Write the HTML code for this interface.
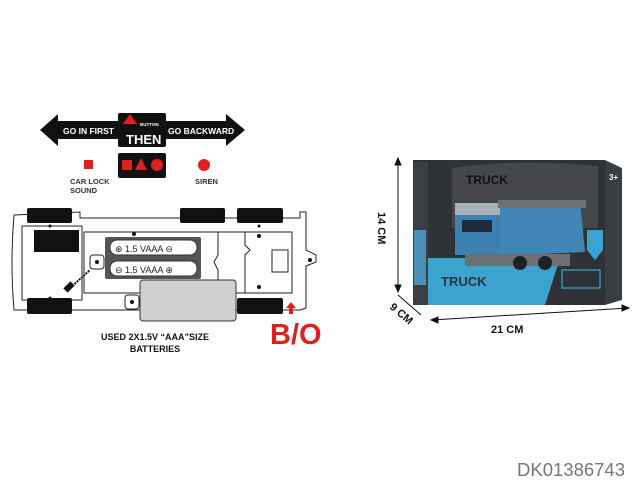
<!DOCTYPE html>
<html><head><style>
html,body{margin:0;padding:0;background:#fff;width:640px;height:480px;overflow:hidden}
svg{display:block}
text{font-family:"Liberation Sans",sans-serif;font-weight:bold}
</style></head><body>
<svg width="640" height="480" viewBox="0 0 640 480">
<!-- double arrow -->
<polygon points="40,130 58,114 58,121 226,121 226,114 245,130 226,146 226,139 58,139 58,146" fill="#111"/>
<rect x="118" y="113" width="48" height="34" rx="2" fill="#111"/>
<text x="63" y="134" font-size="8.5" fill="#fff">GO IN FIRST</text>
<text x="168" y="134" font-size="8.5" fill="#fff">GO BACKWARD</text>
<polygon points="130,114 137,124 123,124" fill="#e0201e"/>
<text x="140" y="126" font-size="4.5" fill="#fff">BUTTON</text>
<text x="126" y="144" font-size="13" fill="#fff">THEN</text>
<rect x="118" y="153" width="48" height="25" rx="2" fill="#111"/>
<rect x="122" y="160" width="10" height="10" fill="#e0201e"/>
<polygon points="141,158 147,170 135,170" fill="#e0201e"/>
<circle cx="157" cy="165" r="6" fill="#e0201e"/>
<rect x="84" y="160" width="9" height="9" fill="#e0201e"/>
<circle cx="204" cy="165" r="6" fill="#e0201e"/>
<text x="70" y="184" font-size="7.5" fill="#333">CAR LOCK</text>
<text x="70" y="193" font-size="7.5" fill="#333">SOUND</text>
<text x="195" y="184" font-size="7.5" fill="#333">SIREN</text>
<!-- chassis -->
<g fill="none" stroke="#222" stroke-width="1">
<path d="M14,215 L80,212 L80,218 L300,218 L300,212 L306,212 L306,250 L316,255 L316,262 L306,266 L306,308 L300,310 L14,310 Q10,262 14,215Z"/>
<path d="M22,226 L82,226 L82,300 L22,300 Z"/>
<path d="M84,232 L292,232 L292,293 L84,293 Z"/>
<rect x="272" y="250" width="16" height="22"/>
<path d="M218,232 L245,232 L245,245 L250,250 L245,255 L245,293 L218,293 L218,270 L214,262 L218,255Z"/>
<rect x="90" y="255" width="14" height="14" rx="3" fill="#fff"/>
<rect x="125" y="295" width="14" height="14" rx="3" fill="#fff"/>
</g>
<rect x="27" y="208" width="45" height="15" rx="2" fill="#111"/>
<rect x="180" y="208" width="45" height="15" rx="2" fill="#111"/>
<rect x="237" y="208" width="46" height="15" rx="2" fill="#111"/>
<rect x="27" y="298" width="45" height="16" rx="2" fill="#111"/>
<rect x="237" y="298" width="46" height="16" rx="2" fill="#111"/>
<rect x="34" y="230" width="45" height="22" fill="#111"/>
<g fill="#111"><circle cx="134" cy="234" r="2"/><circle cx="259" cy="236" r="2"/><circle cx="259" cy="287" r="2"/><circle cx="97" cy="262" r="2"/><circle cx="132" cy="302" r="2"/><circle cx="310" cy="260" r="2"/><circle cx="50" cy="226" r="1.5"/><circle cx="50" cy="298" r="1.5"/><circle cx="259" cy="226" r="1.5"/></g>
<line x1="70" y1="288" x2="90" y2="270" stroke="#111" stroke-width="2" stroke-dasharray="2,1"/>
<rect x="66" y="282" width="6" height="10" fill="#111" transform="rotate(45 69 287)"/>
<!-- battery case -->
<rect x="105" y="237" width="96" height="42" rx="2" fill="#555"/>
<rect x="110" y="240" width="87" height="15" rx="7" fill="#fff" stroke="#333"/>
<rect x="110" y="261" width="87" height="15" rx="7" fill="#fff" stroke="#333"/>
<text x="115" y="252" font-size="9" fill="#222" style="font-weight:normal">⊕  1.5  VAAA  ⊖</text>
<text x="115" y="273" font-size="9" fill="#222" style="font-weight:normal">⊖  1.5  VAAA  ⊕</text>
<rect x="140" y="280" width="96" height="41" rx="3" fill="#d0d0d0" stroke="#333"/>
<text x="270" y="344" font-size="29" fill="#e0201e">B/O</text>
<polygon points="291,302 296,308 293,308 293,314 289,314 289,308 286,308" fill="#e0201e"/>
<text x="155" y="340" font-size="9" fill="#111" text-anchor="middle">USED 2X1.5V “AAA”SIZE</text>
<text x="155" y="352" font-size="9" fill="#111" text-anchor="middle">BATTERIES</text>
<!-- box -->
<rect x="413" y="160" width="192" height="145" fill="#2e3135"/>
<rect x="413" y="162" width="15" height="143" fill="#3b3f44"/>
<polygon points="605,160 622,168 622,300 605,305" fill="#3a3d41"/>
<path d="M452,168 Q520,158 598,166 L598,228 L452,228Z" fill="#45474b"/>
<rect x="414" y="230" width="12" height="55" fill="#4a8fb8"/>
<polygon points="428,258 560,258 545,305 428,305" fill="#3ba3d0"/>
<rect x="455" y="203" width="48" height="52" fill="#3f80b3"/>
<rect x="455" y="203" width="48" height="12" fill="#a8b0b8"/>
<rect x="462" y="220" width="30" height="12" fill="#1c2a3a"/>
<polygon points="500,205 580,200 585,252 500,256" fill="#4286b8"/>
<rect x="498" y="200" width="88" height="8" fill="#6b7278"/>
<rect x="465" y="254" width="105" height="12" fill="#6c7074"/>
<circle cx="520" cy="263" r="7" fill="#222"/><circle cx="545" cy="263" r="7" fill="#222"/>
<path d="M587,230 L603,230 L603,250 L595,260 L587,250Z" fill="#3ba3d0"/>
<rect x="562" y="270" width="38" height="18" fill="none" stroke="#3ba3d0" stroke-width="1.2"/>
<text x="441" y="286" font-size="13" fill="#2a3440">TRUCK</text>
<text x="466" y="184" font-size="12" fill="#111">TRUCK</text>
<text x="609" y="180" font-size="8" fill="#fff">3+</text>
<!-- dimensions -->
<g stroke="#111" stroke-width="1" fill="#111">
<line x1="398" y1="162" x2="398" y2="288"/>
<polygon points="398,158 395,165 401,165"/><polygon points="398,292 395,285 401,285"/>
<line x1="398" y1="295" x2="421" y2="315"/>
<line x1="432" y1="320" x2="628" y2="308"/>
<polygon points="629,308 622,305 622,311"/><polygon points="431,320 438,317 438,323"/>
</g>
<text x="0" y="0" font-size="11" fill="#111" transform="translate(378,212) rotate(90)">14 CM</text>
<text x="0" y="0" font-size="11" fill="#111" transform="translate(389,308) rotate(40)">9 CM</text>
<text x="491" y="333" font-size="11" fill="#111">21 CM</text>
<text x="517" y="476" font-size="18.5" fill="#777" style="font-weight:normal">DK01386743</text>
</svg>
</body></html>
